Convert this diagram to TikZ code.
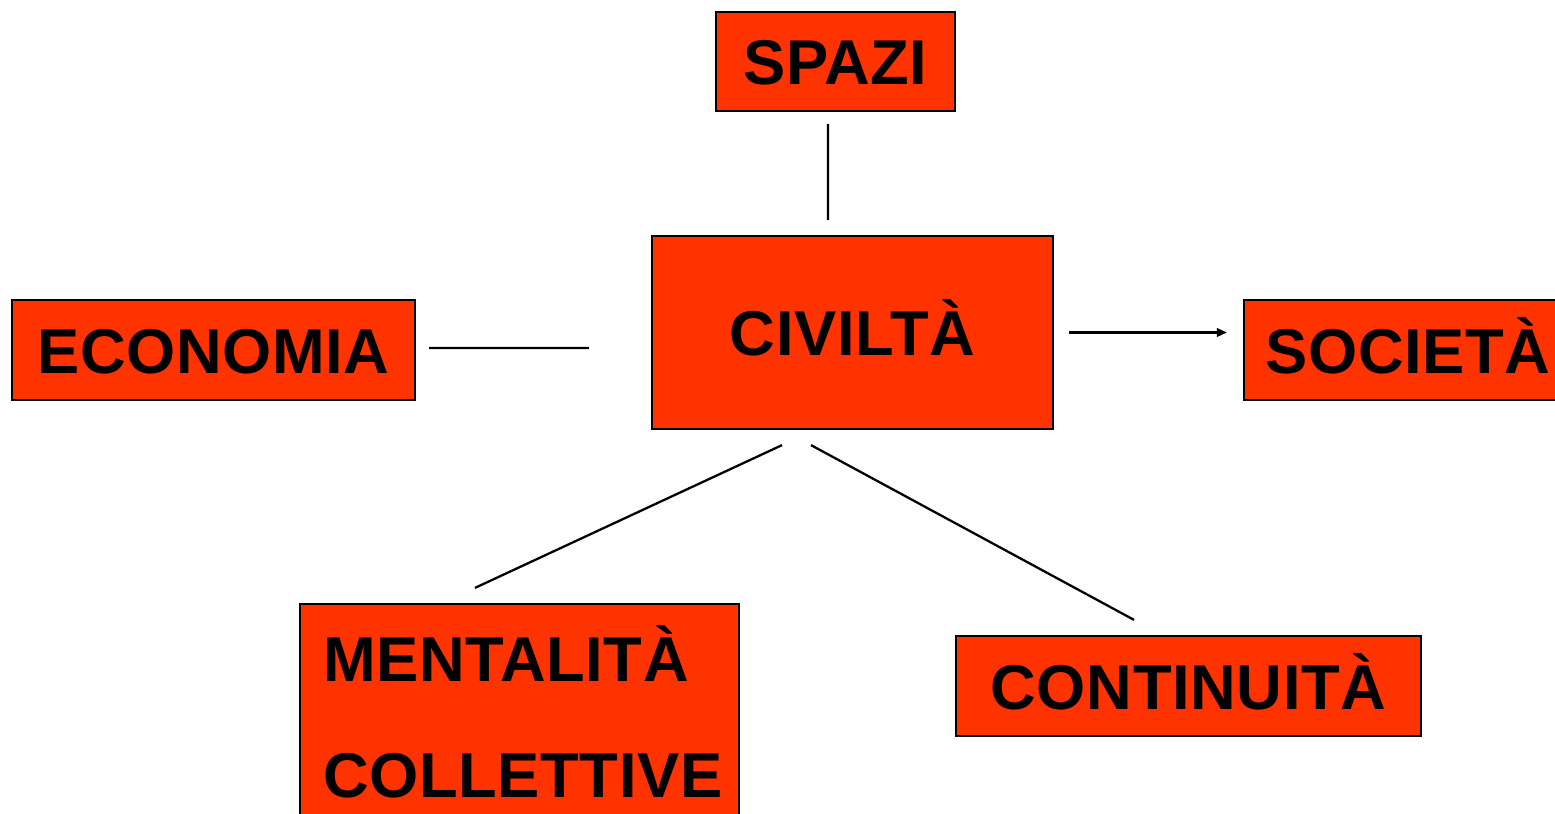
\documentclass[tikz,border=0pt]{standalone}
\usepackage{fontspec}
\newfontfamily\boxfamily[LetterSpace=1]{Liberation Sans}
\newcommand*{\boxfont}{\boxfamily\bfseries\fontsize{36}{66}\selectfont}
\definecolor{R}{RGB}{255,51,0}
\usetikzlibrary{arrows.meta}
\usetikzlibrary{positioning}
\tikzstyle{base}=[x=0.02cm, y=-0.02cm, line width=1.3pt]
\tikzstyle{box}=[draw=black, fill=R, inner sep=0pt, font=\boxfont]
\tikzstyle{onebox}=[box, text height=26.5pt, text depth=0pt]

\begin{document}
\begin{tikzpicture}[base]
    \path [use as bounding box] (0,0) rectangle (1555,814);
        \node [onebox, minimum width=4.78cm, minimum height=1.98cm] (sp) at (835.5,61.5) {SPAZI};
        \node [onebox, minimum width=8.02cm, minimum height=3.86cm] (civ) at (852.5,332.5) {CIVILTÀ};
        \node [onebox, minimum width=8.06cm, minimum height=2cm] (eco) at (213.5,350) {ECONOMIA};
        \node [onebox, minimum width=6.56cm, minimum height=2cm] (soc) at (1408,350) {SOCIETÀ};
        \node [box, align=left, text width=7.86cm, minimum width=8.78cm, minimum height=4.32cm] (men) at (519.5,712) {MENTALITÀ\\COLLETTIVE};
        \node [onebox, minimum width=9.3cm, minimum height=2cm] (con) at (1188.5,686) {CONTINUITÀ};
        % connectors
        \draw ([xshift=-0.15cm,yshift=-0.24cm]sp.south) -- ([xshift=-0.49cm,yshift=0.3cm]civ.north);
        \draw ([xshift=0.26cm,yshift=0.04cm]eco.east) -- ([xshift=-1.24cm,yshift=-0.31cm]civ.west);
        \draw [-{Triangle[length=0.2cm,width=0.17cm]}] ([xshift=0.3cm]civ.east) -- ([xshift=-0.32cm]civ.east -| soc.west);
        \draw ([xshift=-1.41cm,yshift=-0.3cm]civ.south) -- ([xshift=-0.89cm,yshift=0.3cm]men.north);
        \draw ([xshift=-0.83cm,yshift=-0.3cm]civ.south) -- ([xshift=-1.09cm,yshift=0.3cm]con.north);
\end{tikzpicture}
\end{document}
